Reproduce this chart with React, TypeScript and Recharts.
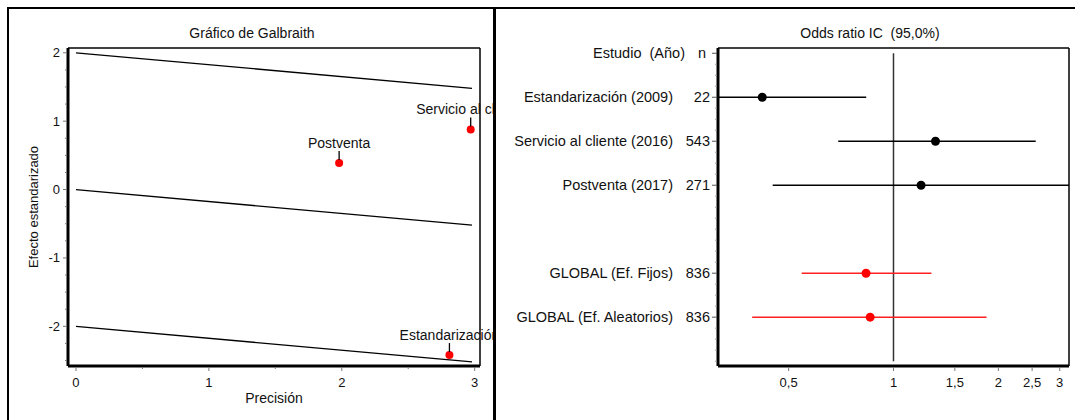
import React from 'react';
import {
  ComposedChart,
  ScatterChart,
  Scatter,
  Line,
  XAxis,
  YAxis,
  ReferenceLine,
  ErrorBar,
} from 'recharts';

// ---------- Galbraith plot data ----------
const galbraithStudies = ['Estandarización', 'Servicio al cliente', 'Postventa'];
const galbraithPrecision = [2.81, 2.97, 1.98];
const galbraithEffect = [-2.42, 0.88, 0.39];

// Regression band: y = intercept + slope·x, drawn from precision 0 to bandPrecisionEnd
const bandIntercepts = [2, 0, -2];
const bandEnds = [1.48, -0.52, -2.52];
const bandPrecisionEnd = 2.98;

const galbraithXTicks = [0, 0.5, 1, 1.5, 2, 2.5, 3];
const galbraithYTicks = [
  -2.5, -2.25, -2, -1.75, -1.5, -1.25, -1, -0.75, -0.5, -0.25, 0,
  0.25, 0.5, 0.75, 1, 1.25, 1.5, 1.75, 2,
];

// ---------- Forest plot data ----------
const forestRows = [1, 2, 3, 5, 6];
const studyLabels = [
  'Estandarización (2009)',
  'Servicio al cliente (2016)',
  'Postventa (2017)',
  'GLOBAL (Ef. Fijos)',
  'GLOBAL (Ef. Aleatorios)',
];
const sampleSizes = [22, 543, 271, 836, 836];
const oddsRatios = [0.42, 1.32, 1.2, 0.834, 0.857];
// intervals that run past the axis range are given at the visible limit
const ciLower = [0.3135, 0.694, 0.45, 0.545, 0.393];
const ciUpper = [0.835, 2.56, 3.19, 1.285, 1.85];
const isPooled = [false, false, false, true, true];

const forestXTicks = [0.5, 1, 1.5, 2, 2.5, 3];
const forestXTickLabels = ['0,5', '1', '1,5', '2', '2,5', '3'];
const forestYTicks = Array.from({ length: 29 }, (_, i) => i / 4);

const FONT = '"Liberation Sans", Arial, Helvetica, sans-serif';
const TEXT = '#111';

const galbraithPoints = galbraithStudies.map((name, i) => ({
  name,
  x: galbraithPrecision[i],
  y: galbraithEffect[i],
}));

const bandSeries = bandIntercepts.map((b, i) => [
  { x: 0, y: b },
  { x: bandPrecisionEnd, y: bandEnds[i] },
]);

const forestData = studyLabels.map((label, i) => ({
  label,
  n: sampleSizes[i],
  row: forestRows[i],
  or: oddsRatios[i],
  lo: ciLower[i],
  hi: ciUpper[i],
  pooled: isPooled[i],
}));
const studyData = forestData.filter((d) => !d.pooled);
const pooledData = forestData.filter((d) => d.pooled);

const ciDelta = (d: any) => [d.or - d.lo, d.hi - d.or];

// ---------- tick renderers ----------
const GalXTick = (props: any) => {
  const { x, y, payload } = props;
  const v = payload.value;
  const major = Number.isInteger(v);
  return (
    <g>
      <line x1={x} x2={x} y1={y + 1} y2={y + (major ? 5 : 3)} stroke="#777" strokeWidth={1} />
      {major && (
        <text x={x} y={y + 16} textAnchor="middle" dominantBaseline="central" fontSize={13} fontFamily={FONT} fill={TEXT}>
          {v}
        </text>
      )}
    </g>
  );
};

const GalYTick = (props: any) => {
  const { x, y, payload } = props;
  const v = payload.value;
  const major = Number.isInteger(v);
  return (
    <g>
      <line x1={x - (major ? 5 : 3)} x2={x - 1} y1={y} y2={y} stroke="#777" strokeWidth={1} />
      {major && (
        <text x={x - 8} y={y} textAnchor="end" dominantBaseline="central" fontSize={13} fontFamily={FONT} fill={TEXT}>
          {v}
        </text>
      )}
    </g>
  );
};

const ForestXTick = (props: any) => {
  const { x, y, payload } = props;
  const idx = forestXTicks.indexOf(payload.value);
  return (
    <g>
      <line x1={x} x2={x} y1={y + 1} y2={y + 5} stroke="#777" strokeWidth={1} />
      <text x={x} y={y + 16} textAnchor="middle" dominantBaseline="central" fontSize={13} fontFamily={FONT} fill={TEXT}>
        {forestXTickLabels[idx]}
      </text>
    </g>
  );
};

const ForestYTick = (props: any) => {
  const { x, y, payload } = props;
  const v = payload.value;
  if (v === 0) {
    return (
      <g>
        <line x1={x - 6} x2={x - 1} y1={y} y2={y} stroke="#555" strokeWidth={1} />
        <text x={x - 33} y={y} textAnchor="end" dominantBaseline="central" fontSize={14.5} fontFamily={FONT} fill={TEXT}>
          {'Estudio\u00A0 (Año)'}
        </text>
        <text x={x - 12} y={y} textAnchor="end" dominantBaseline="central" fontSize={14.5} fontFamily={FONT} fill={TEXT}>
          n
        </text>
      </g>
    );
  }
  const idx = forestRows.indexOf(v);
  if (idx >= 0) {
    return (
      <g>
        <line x1={x - 6} x2={x - 1} y1={y} y2={y} stroke="#555" strokeWidth={1} />
        <text x={x - 45} y={y} textAnchor="end" dominantBaseline="central" fontSize={14.5} fontFamily={FONT} fill={TEXT}>
          {studyLabels[idx]}
        </text>
        <text x={x - 8} y={y} textAnchor="end" dominantBaseline="central" fontSize={14.5} fontFamily={FONT} fill={TEXT}>
          {sampleSizes[idx]}
        </text>
      </g>
    );
  }
  return <line x1={x - 3} x2={x - 1} y1={y} y2={y} stroke="#999" strokeWidth={1} />;
};

// ---------- point shapes ----------
const LabeledPoint = (props: any) => {
  const { cx, cy, payload } = props;
  return (
    <g>
      <circle cx={cx} cy={cy} r={4} fill="#ff0000" />
      <line x1={cx} x2={cx} y1={cy - 12} y2={cy - 3} stroke="#000" strokeWidth={1.3} />
      <text x={cx} y={cy - 20} textAnchor="middle" dominantBaseline="central" fontSize={14} fontFamily={FONT} fill={TEXT}>
        {payload.name}
      </text>
    </g>
  );
};

const dot = (color: string, r: number) => (props: any) =>
  <circle cx={props.cx} cy={props.cy} r={r} fill={color} />;

const titleStyle: React.CSSProperties = {
  position: 'absolute',
  top: 24,
  width: 300,
  textAlign: 'center',
  fontFamily: FONT,
  fontSize: 14,
  color: TEXT,
  whiteSpace: 'pre',
  lineHeight: '18px',
};

export default function App() {
  return (
    <div
      style={{
        position: 'fixed',
        left: 0,
        top: 0,
        width: 1075,
        height: 420,
        background: '#fff',
        overflow: 'hidden',
      }}
    >
      {/* panel frames */}
      <div style={{ position: 'absolute', left: 7, top: 7, width: 1068, height: 2, background: '#000' }} />
      <div style={{ position: 'absolute', left: 7, top: 7, width: 2, height: 413, background: '#000' }} />
      <div style={{ position: 'absolute', left: 493, top: 7, width: 3, height: 413, background: '#000' }} />

      <div style={{ ...titleStyle, left: 252 - 150 }}>Gráfico de Galbraith</div>
      <div style={{ ...titleStyle, left: 870 - 150 }}>{'Odds ratio IC  (95,0%)'}</div>

      {/* Galbraith plot; point labels near the right edge are cut by the panel */}
      <div style={{ position: 'absolute', left: 0, top: 0, width: 493, height: 420, overflow: 'hidden' }}>
        <ComposedChart width={494} height={420} margin={{ top: 48, right: 14, bottom: 24, left: 8 }}>
          <XAxis
            type="number"
            dataKey="x"
            domain={[-0.06, 3.04]}
            ticks={galbraithXTicks}
            interval={0}
            tick={GalXTick}
            tickLine={false}
            tickSize={0}
            tickMargin={0}
            height={30}
            axisLine={{ stroke: '#000', strokeWidth: 3 }}
            label={{
              content: (p: any) => {
                const vb = p.viewBox;
                return (
                  <text x={vb.x + vb.width / 2} y={vb.y + 32} textAnchor="middle" dominantBaseline="central" fontSize={14} fontFamily={FONT} fill={TEXT}>
                    Precisión
                  </text>
                );
              },
            }}
          />
          <YAxis
            type="number"
            dataKey="y"
            domain={[-2.58, 2.07]}
            ticks={galbraithYTicks}
            interval={0}
            tick={GalYTick}
            tickLine={false}
            tickSize={0}
            tickMargin={0}
            width={60}
            axisLine={{ stroke: '#000', strokeWidth: 3 }}
            label={{
              content: (p: any) => {
                const vb = p.viewBox;
                const cx = vb.x + 25;
                const cy = vb.y + vb.height / 2;
                return (
                  <text x={cx} y={cy} transform={`rotate(-90, ${cx}, ${cy})`} textAnchor="middle" dominantBaseline="central" fontSize={13} fontFamily={FONT} fill={TEXT}>
                    Efecto estandarizado
                  </text>
                );
              },
            }}
          />
          <ReferenceLine y={2.07} stroke="#000" strokeWidth={1.5} />
          <ReferenceLine x={3.04} stroke="#000" strokeWidth={1.5} />
          {bandSeries.map((s, i) => (
            <Line
              key={i}
              data={s}
              dataKey="y"
              type="linear"
              stroke="#000"
              strokeWidth={1.3}
              dot={false}
              activeDot={false}
              isAnimationActive={false}
            />
          ))}
          <Scatter data={galbraithPoints} dataKey="y" shape={LabeledPoint} isAnimationActive={false} />
        </ComposedChart>
      </div>

      {/* Forest plot */}
      <div style={{ position: 'absolute', left: 495, top: 0, width: 580, height: 420 }}>
        <ScatterChart width={580} height={420} margin={{ top: 48, right: 6, bottom: 24, left: 8 }}>
          <XAxis
            type="number"
            dataKey="or"
            scale="log"
            domain={[0.3135, 3.19]}
            allowDataOverflow
            ticks={forestXTicks}
            interval={0}
            tick={ForestXTick}
            tickLine={false}
            tickSize={0}
            tickMargin={0}
            height={30}
            axisLine={{ stroke: '#000', strokeWidth: 3 }}
          />
          <YAxis
            type="number"
            dataKey="row"
            domain={[-0.12, 7.11]}
            reversed
            allowDataOverflow
            ticks={forestYTicks}
            interval={0}
            tick={ForestYTick}
            tickLine={false}
            tickSize={0}
            tickMargin={0}
            width={215}
            axisLine={{ stroke: '#000', strokeWidth: 3 }}
          />
          <ReferenceLine y={-0.12} stroke="#000" strokeWidth={1.5} />
          <ReferenceLine x={3.19} stroke="#000" strokeWidth={1.5} />
          <ReferenceLine
            segment={[
              { x: 1, y: 0 },
              { x: 1, y: 7 },
            ]}
            stroke="#333"
            strokeWidth={1.5}
          />
          <Scatter data={studyData} shape={dot('#000', 4.5)} isAnimationActive={false}>
            <ErrorBar dataKey={ciDelta} direction="x" width={0} stroke="#000" strokeWidth={1.5} />
          </Scatter>
          <Scatter data={pooledData} shape={dot('#ff0000', 4.5)} isAnimationActive={false}>
            <ErrorBar dataKey={ciDelta} direction="x" width={0} stroke="#ff2020" strokeWidth={1.5} />
          </Scatter>
        </ScatterChart>
      </div>
    </div>
  );
}
